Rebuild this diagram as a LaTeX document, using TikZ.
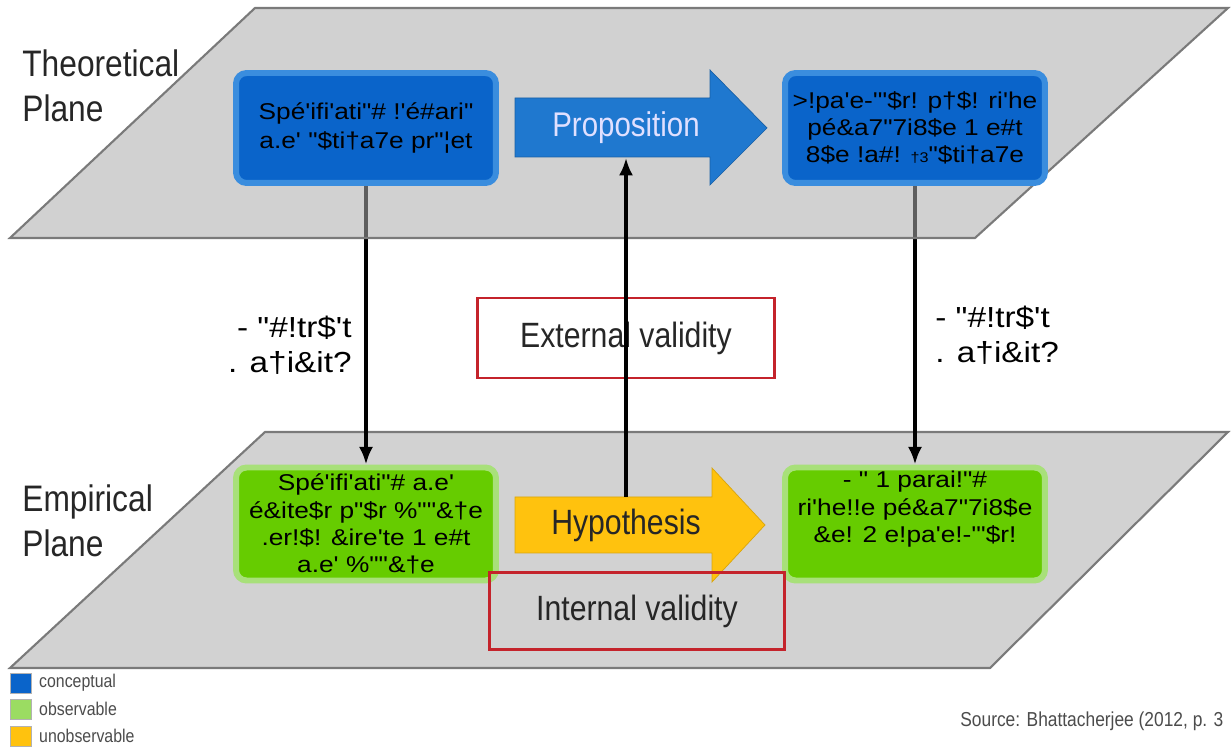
\documentclass[tikz,border=0pt]{standalone}
\usepackage{fontspec}
\setmainfont{Liberation Sans}[Ligatures=TeXOff]
\newfontfamily\narrowfont{Liberation Sans}[FakeStretch=0.86]
\newfontfamily\widefont{Liberation Sans}[Ligatures=TeXOff, FakeStretch=1.15]
\usetikzlibrary{positioning}
\usetikzlibrary{arrows.meta}
\definecolor{planefill}{HTML}{D2D2D2}
\definecolor{planegray}{HTML}{ADADAD}
\definecolor{planeedge}{HTML}{7A7A7A}
\definecolor{bluerim}{HTML}{3A8DDE}
\definecolor{bluecore}{HTML}{0A64CA}
\definecolor{greenrim}{HTML}{A8E07A}
\definecolor{greencore}{HTML}{66CC00}
\definecolor{arrowblue}{HTML}{1F78CF}
\definecolor{arrowyellow}{HTML}{FFC20E}
\definecolor{boxred}{HTML}{C4232B}
\pgfdeclarelayer{back}
\pgfsetlayers{back,main}

\tikzset{
  plane/.style={draw=planeedge, line width=1.2pt},
  concept/.style={rectangle, rounded corners=6pt, draw=bluerim, line width=3.4pt, fill=bluecore, minimum width=5.2cm, minimum height=2.2cm, inner sep=1pt, align=center, font=\widefont\fontsize{13}{15.5}\selectfont},
  observe/.style={concept, draw=greenrim, fill=greencore, minimum height=2.26cm},
  link/.style={line width=2pt, -{Latex[length=10pt,width=8pt]}},
  validity/.style={rectangle, draw=boxred, line width=1.4pt, minimum width=5.94cm, minimum height=1.6cm, font=\narrowfont\fontsize{20}{24}\selectfont, text=black!85},
  planelabel/.style={anchor=north west, inner sep=0pt, align=left, font=\narrowfont\fontsize{21}{26}\selectfont, text=black!85},
  linklabel/.style={inner sep=0pt, font=\widefont\fontsize{16.5}{20}\selectfont},
  legkey/.style={rectangle, minimum width=0.42cm, minimum height=0.4cm, inner sep=0pt, draw=black!30},
  legtext/.style={inner sep=0pt, font=\narrowfont\fontsize{10.5}{12}\selectfont, text=black!70}
}

\begin{document}
\begin{tikzpicture}[x=0.02cm,y=-0.02cm]
\clip (0,0) rectangle (1231,749);

\begin{pgfonlayer}{back}
\fill[white] (0,0) rectangle (1231,749);
\draw[plane, fill=planefill] (265,432) -- (1228,432) -- (990,668) -- (10,668) -- cycle;
\end{pgfonlayer}

\draw[plane, fill=planegray, fill opacity=0.55] (255,8) -- (1228,8) -- (975,238) -- (10,238) -- cycle;

\node[planelabel] (theo) at (22,49) {Theoretical\\Plane};
\node[planelabel] (emp) at (22,484) {Empirical\\Plane};

\node[concept, font=\widefont\fontsize{13}{17}\selectfont] (spec) at (366,128) {Spé'ifi'ati"\# !'é\#ari"\\a.e' "\$ti†a7e pr"¦et};
\node[concept] (expl) at (915,128) {>!pa'e-'"\$r! p†\$! ri'he\\pé\&a7"7i8\$e 1 e\#t\\8\$e !a\#! {\footnotesize†3}"\$ti†a7e};
\node[observe] (specobs) at (366,524) {Spé'ifi'ati"\# a.e'\\é\&ite\$r p"\$r \%""\&†e\\.er!\$! \&ire'te 1 e\#t\\a.e' \%""\&†e};
\node[observe] (explobs) at (915,524) {- " 1 parai!"\#\\ri'he!!e pé\&a7"7i8\$e\\\&e! 2 e!pa'e!-'"\$r!\\[4pt]};

\fill[arrowblue, draw=arrowblue!80!black] (515,98) -- (710,98) -- (710,70) -- (767,128) -- (710,185) -- (710,157) -- (515,157) -- cycle;
\node[minimum height=1.18cm, inner sep=0pt, font=\narrowfont\fontsize{19.5}{22}\selectfont, text=blue!12] (prop) at (626,128) {Proposition};

\fill[arrowyellow, draw=arrowyellow!85!black] (515,497) -- (712,497) -- (712,468) -- (765,525) -- (712,582) -- (712,553) -- (515,553) -- cycle;
\node[minimum height=1.12cm, inner sep=0pt, font=\narrowfont\fontsize{20}{22}\selectfont, text=black!85] (hyp) at (626,525) {Hypothesis};

\node[validity, fill=white] (extval) at (626,338) {External validity};
\node[validity, minimum width=5.9cm, minimum height=1.54cm] (intval) at (637,611) {Internal validity};

\begin{pgfonlayer}{back}
\draw[link] (spec) -- (specobs);
\draw[link] (expl) -- (explobs);
\end{pgfonlayer}
\draw[link] (hyp.north) -- (prop.south);

\node[linklabel, anchor=east, align=right] (constL) at (352,345) {- "\#!tr\$'t\\. a†i\&it?};
\node[linklabel, anchor=west, align=left] (constR) at (935,335) {- "\#!tr\$'t\\. a†i\&it?};

\node[legkey, fill=bluecore] (k1) at (21,683) {};
\node[legkey, fill=greenrim!80!greencore] (k2) at (21,709) {};
\node[legkey, fill=arrowyellow] (k3) at (21,736) {};
\node[legtext, right=4pt of k1] (t1) {conceptual};
\node[legtext, right=4pt of k2] (t2) {observable};
\node[legtext, right=4pt of k3] (t3) {unobservable};

\node[anchor=west, inner sep=0pt, font=\narrowfont\fontsize{11.5}{14}\selectfont, text=black!70] (src) at (960,721) {Source: Bhattacherjee (2012, p. 3};
\end{tikzpicture}
\end{document}
